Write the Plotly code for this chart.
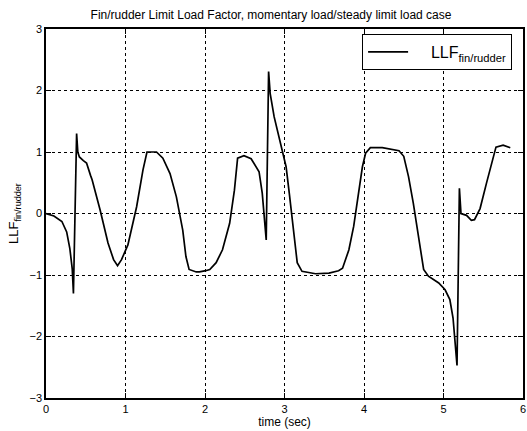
import plotly.graph_objects as go

# Limit load factor history for the fin/rudder
time_sec = [0.00, 0.10, 0.20, 0.26, 0.30, 0.33, 0.345, 0.385, 0.40, 0.42, 0.47, 0.51,
            0.56, 0.58, 0.68, 0.78, 0.85, 0.90, 0.95, 1.03, 1.14, 1.22, 1.27, 1.39,
            1.47, 1.56, 1.64, 1.72, 1.76, 1.80, 1.89, 1.93, 2.01, 2.06, 2.14, 2.22,
            2.31, 2.37, 2.41, 2.49, 2.58, 2.68, 2.72, 2.74, 2.77, 2.80, 2.82, 2.87,
            2.95, 3.02, 3.06, 3.12, 3.16, 3.22, 3.39, 3.56, 3.68, 3.73, 3.81, 3.87,
            3.93, 3.98, 4.02, 4.08, 4.23, 4.44, 4.50, 4.56, 4.62, 4.69, 4.75, 4.81,
            4.94, 5.02, 5.08, 5.12, 5.15, 5.17, 5.20, 5.22, 5.29, 5.35, 5.39, 5.46,
            5.54, 5.61, 5.66, 5.75, 5.84]
llf = [0.00, -0.04, -0.13, -0.30, -0.57, -0.90, -1.30, 1.30, 1.00, 0.92, 0.86, 0.82,
       0.62, 0.55, 0.06, -0.48, -0.75, -0.85, -0.75, -0.51, 0.11, 0.71, 1.00, 1.00,
       0.90, 0.65, 0.27, -0.27, -0.70, -0.91, -0.95, -0.95, -0.93, -0.91, -0.80, -0.59,
       -0.16, 0.38, 0.90, 0.94, 0.89, 0.68, 0.33, 0.06, -0.43, 2.31, 1.95, 1.57,
       1.14, 0.76, 0.33, -0.37, -0.80, -0.94, -0.98, -0.97, -0.93, -0.89, -0.59, -0.21,
       0.33, 0.76, 0.98, 1.07, 1.07, 1.02, 0.93, 0.60, 0.17, -0.43, -0.91, -1.02,
       -1.13, -1.24, -1.40, -1.70, -2.16, -2.47, 0.41, 0.00, -0.03, -0.11, -0.10, 0.08,
       0.49, 0.86, 1.08, 1.11, 1.07]

x_ticks = [0, 1, 2, 3, 4, 5, 6]
y_ticks = [-3, -2, -1, 0, 1, 2, 3]

FONT = "Liberation Sans, Arial, sans-serif"

fig = go.Figure()
fig.add_trace(go.Scatter(
    x=time_sec, y=llf, mode="lines",
    line=dict(color="black", width=1.7),
    name="&nbsp;&nbsp;&nbsp;&nbsp;LLF<sub>fin/rudder</sub>",
))

axis_common = dict(
    showline=True, linecolor="black", linewidth=1.5, mirror="ticks",
    ticks="inside", ticklen=5, tickwidth=1, tickcolor="black",
    showgrid=True, gridcolor="black", gridwidth=1, griddash="dot",
    zeroline=False, tickfont=dict(family=FONT, size=11, color="black"),
)

fig.update_layout(
    width=527, height=431,
    margin=dict(l=46, r=2, t=29, b=33),
    paper_bgcolor="white", plot_bgcolor="white",
    title=dict(
        text="Fin/rudder Limit Load Factor, momentary load/steady limit load case",
        font=dict(family=FONT, size=12, color="black"),
        x=271 / 527, xanchor="center", y=1 - 15 / 431, yanchor="middle",
    ),
    xaxis=dict(range=[0, 6], tickvals=x_ticks,
               title=dict(text="time (sec)", font=dict(family=FONT, size=12, color="black"),
                          standoff=3),
               **axis_common),
    yaxis=dict(range=[-3, 3], tickvals=y_ticks,
               title=dict(text="LLF<sub>fin/rudder</sub>",
                          font=dict(family=FONT, size=13, color="black"), standoff=8),
               **axis_common),
    showlegend=True,
    legend=dict(
        x=513 / 525, xref="paper", xanchor="right", y=1 - 5 / 369, yanchor="top",
        bgcolor="white", bordercolor="black", borderwidth=1,
        font=dict(family=FONT, size=16, color="black"),
        itemwidth=40,
    ),
)

fig.write_html("out.html")
